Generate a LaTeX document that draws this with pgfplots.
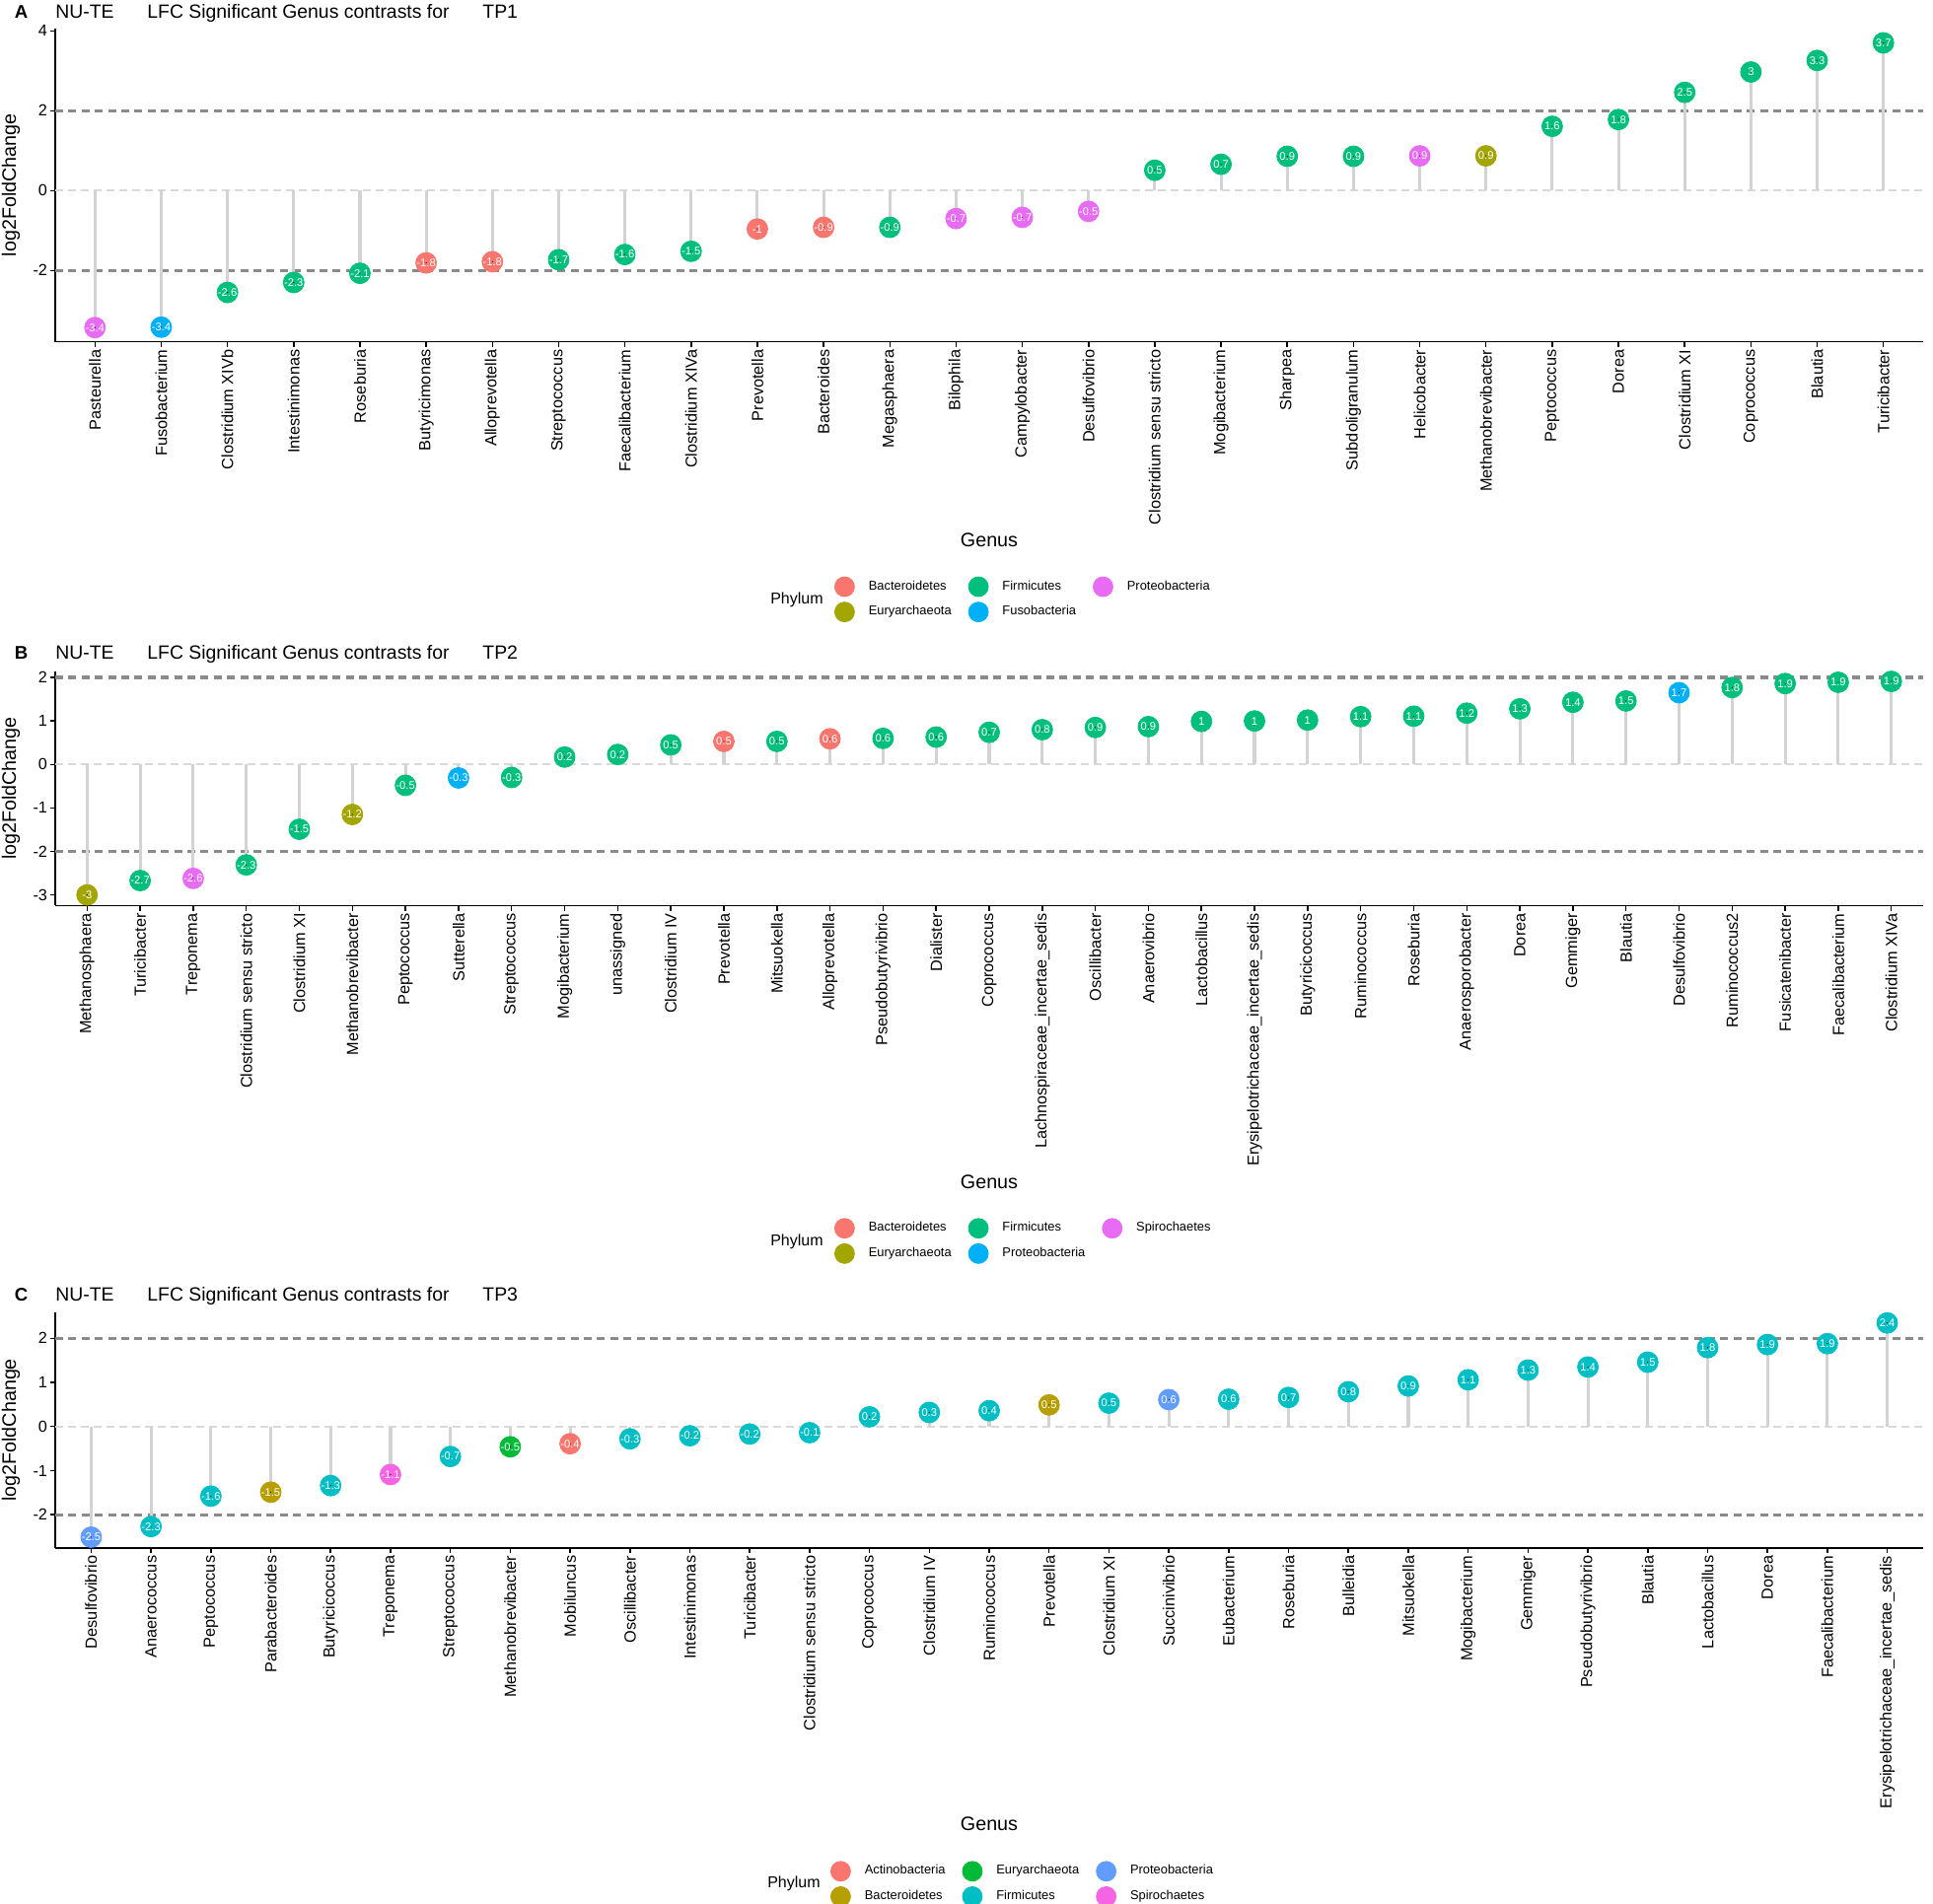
\documentclass[border=0pt]{standalone}
\usepackage{fontspec}
\setmainfont{Liberation Sans}
\usepackage{pgfplots}
\usepackage{pgfplotstable}
\pgfplotsset{compat=1.18}

\definecolor{aBac}{HTML}{F8766D}
\definecolor{aEur}{HTML}{A3A500}
\definecolor{aFir}{HTML}{00BF7D}
\definecolor{aBlu}{HTML}{00B0F6}
\definecolor{aPin}{HTML}{E76BF3}
\definecolor{cAct}{HTML}{F8766D}
\definecolor{cBac}{HTML}{B79F00}
\definecolor{cEur}{HTML}{00BA38}
\definecolor{cFir}{HTML}{00BFC4}
\definecolor{cPro}{HTML}{619CFF}
\definecolor{cSpi}{HTML}{F564E3}
\definecolor{dashgray}{HTML}{8A8A8A}
\definecolor{zerogray}{HTML}{D9D9D9}
\definecolor{stemgray}{HTML}{D3D3D3}

\pgfplotstableread{
x y lab ph
0 -3.43 -3.4 Pro
1 -3.42 -3.4 Fus
2 -2.55 -2.6 Fir
3 -2.30 -2.3 Fir
4 -2.07 -2.1 Fir
5 -1.81 -1.8 Bac
6 -1.78 -1.8 Bac
7 -1.73 -1.7 Fir
8 -1.60 -1.6 Fir
9 -1.52 -1.5 Fir
10 -0.96 -1 Bac
11 -0.92 -0.9 Bac
12 -0.92 -0.9 Fir
13 -0.70 -0.7 Pro
14 -0.67 -0.7 Pro
15 -0.52 -0.5 Pro
16 0.51 0.5 Fir
17 0.66 0.7 Fir
18 0.86 0.9 Fir
19 0.86 0.9 Fir
20 0.87 0.9 Pro
21 0.87 0.9 Eur
22 1.61 1.6 Fir
23 1.78 1.8 Fir
24 2.46 2.5 Fir
25 2.97 3 Fir
26 3.26 3.3 Fir
27 3.70 3.7 Fir
}\dataA

\pgfplotstableread{
x y lab ph
0 -3.00 -3 Eur
1 -2.67 -2.7 Fir
2 -2.62 -2.6 Spi
3 -2.31 -2.3 Fir
4 -1.49 -1.5 Fir
5 -1.15 -1.2 Eur
6 -0.48 -0.5 Fir
7 -0.31 -0.3 Pro
8 -0.30 -0.3 Fir
9 0.17 0.2 Fir
10 0.23 0.2 Fir
11 0.45 0.5 Fir
12 0.53 0.5 Bac
13 0.53 0.5 Fir
14 0.59 0.6 Bac
15 0.60 0.6 Fir
16 0.63 0.6 Fir
17 0.74 0.7 Fir
18 0.80 0.8 Fir
19 0.85 0.9 Fir
20 0.87 0.9 Fir
21 0.99 1 Fir
22 1.00 1 Fir
23 1.02 1 Fir
24 1.10 1.1 Fir
25 1.11 1.1 Fir
26 1.18 1.2 Fir
27 1.28 1.3 Fir
28 1.43 1.4 Fir
29 1.46 1.5 Fir
30 1.65 1.7 Pro
31 1.77 1.8 Fir
32 1.86 1.9 Fir
33 1.89 1.9 Fir
34 1.91 1.9 Fir
}\dataB

\pgfplotstableread{
x y lab ph
0 -2.51 -2.5 Pro
1 -2.27 -2.3 Fir
2 -1.58 -1.6 Fir
3 -1.49 -1.5 Bac
4 -1.34 -1.3 Fir
5 -1.09 -1.1 Spi
6 -0.68 -0.7 Fir
7 -0.46 -0.5 Eur
8 -0.39 -0.4 Act
9 -0.28 -0.3 Fir
10 -0.21 -0.2 Fir
11 -0.17 -0.2 Fir
12 -0.14 -0.1 Fir
13 0.22 0.2 Fir
14 0.32 0.3 Fir
15 0.36 0.4 Fir
16 0.49 0.5 Bac
17 0.53 0.5 Fir
18 0.61 0.6 Pro
19 0.62 0.6 Fir
20 0.66 0.7 Fir
21 0.79 0.8 Fir
22 0.92 0.9 Fir
23 1.06 1.1 Fir
24 1.28 1.3 Fir
25 1.35 1.4 Fir
26 1.46 1.5 Fir
27 1.79 1.8 Fir
28 1.86 1.9 Fir
29 1.88 1.9 Fir
30 2.35 2.4 Fir
}\dataC

\pgfplotsset{
  lolli/.style={
    scale only axis, width=947pt, anchor=south west, clip=false,
    xmin=-0.6,
    axis lines=left, axis line style={-, line width=0.75pt, black},
    tick align=outside, major tick length=2.6pt,
    tick style={line width=0.75pt, black},
    xticklabel style={rotate=90, anchor=east, inner sep=1.2pt, font=\fontsize{8.15}{9.6}\selectfont},
    yticklabel style={inner sep=1.2pt, font=\fontsize{8.1}{9.6}\selectfont},
    xlabel={Genus}, ylabel={log2FoldChange},
    label style={font=\fontsize{9.85}{11.5}\selectfont},
    xlabel style={inner sep=3.1pt},
    ylabel style={at={(axis description cs:-0.0238,0.5)}, anchor=center},
    legend columns=3,
    legend cell align=left,
    legend style={draw=none, fill=none, inner sep=0pt, outer sep=0pt, anchor=west,
      font=\fontsize{6.45}{7.5}\selectfont, row sep=2.4pt,
      nodes={inner sep=0pt},
      /tikz/every odd column/.append style={column sep=7pt},
      /tikz/every even column/.append style={column sep=8.5pt}},
  },
  hl2/.style={forget plot, draw=dashgray, line width=1.65pt, dash pattern=on 4pt off 2.7pt},
  hl0/.style={forget plot, draw=zerogray, line width=0.85pt, dash pattern=on 3.8pt off 2.7pt},
  stem/.style={forget plot, ycomb, no markers, draw=stemgray, line width=1.55pt},
  pts/.style={forget plot, scatter, only marks, scatter src=explicit symbolic,
    mark=*, mark size=5.25pt},
  labs/.style={forget plot, only marks, mark=*, mark size=0.01pt,
    mark options={draw=none, fill=none},
    point meta=explicit symbolic,
    nodes near coords,
    every node near coord/.append style={anchor=center, text=white, inner sep=0pt,
      font=\fontsize{5.6}{6}\selectfont}},
}

\begin{document}
\begin{tikzpicture}
\path[use as bounding box] (0pt,0pt) rectangle (980pt,-965.5pt);

% ---------------- Panel A ----------------
\node[anchor=base west, inner sep=0pt, font=\bfseries\fontsize{9.3}{10}\selectfont] at (7.2pt,-9.15pt) {A};
\node[anchor=base west, inner sep=0pt, font=\fontsize{9.7}{11}\selectfont] at (28pt,-9.15pt) {NU-TE};
\node[anchor=base west, inner sep=0pt, font=\fontsize{9.7}{11}\selectfont] at (74.5pt,-9.15pt) {LFC Significant Genus contrasts for};
\node[anchor=base west, inner sep=0pt, font=\fontsize{9.7}{11}\selectfont] at (244.5pt,-9.15pt) {TP1};
\begin{axis}[lolli, at={(28pt,-173.35pt)}, height=158.85pt,
  xmax=27.6, ymin=-3.787, ymax=4.057,
  xtick={0,1,...,27},
  xticklabels={Pasteurella, Fusobacterium, Clostridium XIVb, Intestinimonas, Roseburia, Butyricimonas, Alloprevotella, Streptococcus, Faecalibacterium, Clostridium XIVa, Prevotella, Bacteroides, Megasphaera, Bilophila, Campylobacter, Desulfovibrio, Clostridium sensu stricto, Mogibacterium, Sharpea, Subdoligranulum, Helicobacter, Methanobrevibacter, Peptococcus, Dorea, Clostridium XI, Coprococcus, Blautia, Turicibacter},
  ytick={-2,0,2,4}, yticklabels={-2,0,2,4},
  legend style={at={(0.4171,-0.822)}},
]
\addplot[hl0] coordinates {(-0.6,0) (27.6,0)};
\addplot[hl2] coordinates {(-0.6,2) (27.6,2)};
\addplot[hl2] coordinates {(-0.6,-2) (27.6,-2)};
\addplot[stem] table[x=x,y=y] {\dataA};
\addplot[pts, scatter/classes={Bac={draw=aBac,fill=aBac}, Eur={draw=aEur,fill=aEur}, Fir={draw=aFir,fill=aFir}, Fus={draw=aBlu,fill=aBlu}, Pro={draw=aPin,fill=aPin}}]
  table[x=x,y=y,meta=ph] {\dataA};
\addplot[labs] table[x=x,y=y,meta=lab] {\dataA};
\addlegendimage{legend image code/.code={\fill[aBac] (0pt,0pt) circle[radius=5pt];}}
\addlegendentry{Bacteroidetes}
\addlegendimage{legend image code/.code={\fill[aFir] (0pt,0pt) circle[radius=5pt];}}
\addlegendentry{Firmicutes}
\addlegendimage{legend image code/.code={\fill[aPin] (0pt,0pt) circle[radius=5pt];}}
\addlegendentry{Proteobacteria}
\addlegendimage{legend image code/.code={\fill[aEur] (0pt,0pt) circle[radius=5pt];}}
\addlegendentry{Euryarchaeota}
\addlegendimage{legend image code/.code={\fill[aBlu] (0pt,0pt) circle[radius=5pt];}}
\addlegendentry{Fusobacteria}
\end{axis}
\node[anchor=east, inner sep=0pt, font=\fontsize{8}{9.6}\selectfont] at (417.5pt,-304pt) {Phylum};

% ---------------- Panel B ----------------
\node[anchor=base west, inner sep=0pt, font=\bfseries\fontsize{9.3}{10}\selectfont] at (7.2pt,-334pt) {B};
\node[anchor=base west, inner sep=0pt, font=\fontsize{9.7}{11}\selectfont] at (28pt,-334pt) {NU-TE};
\node[anchor=base west, inner sep=0pt, font=\fontsize{9.7}{11}\selectfont] at (74.5pt,-334pt) {LFC Significant Genus contrasts for};
\node[anchor=base west, inner sep=0pt, font=\fontsize{9.7}{11}\selectfont] at (244.5pt,-334pt) {TP2};
\begin{axis}[lolli, at={(28pt,-459.2pt)}, height=118.85pt,
  xmax=34.6, ymin=-3.245, ymax=2.145,
  xtick={0,1,...,34},
  xticklabels={Methanosphaera, Turicibacter, Treponema, Clostridium sensu stricto, Clostridium XI, Methanobrevibacter, Peptococcus, Sutterella, Streptococcus, Mogibacterium, unassigned, Clostridium IV, Prevotella, Mitsuokella, Alloprevotella, Pseudobutyrivibrio, Dialister, Coprococcus, Lachnospiraceae\_incertae\_sedis, Oscillibacter, Anaerovibrio, Lactobacillus, Erysipelotrichaceae\_incertae\_sedis, Butyricicoccus, Ruminococcus, Roseburia, Anaerosporobacter, Dorea, Gemmiger, Blautia, Desulfovibrio, Ruminococcus2, Fusicatenibacter, Faecalibacterium, Clostridium XIVa},
  ytick={-3,-2,-1,0,1,2}, yticklabels={-3,-2,-1,0,1,2},
  legend style={at={(0.4171,-1.431)}},
]
\addplot[hl0] coordinates {(-0.6,0) (34.6,0)};
\addplot[hl2] coordinates {(-0.6,2) (34.6,2)};
\addplot[hl2] coordinates {(-0.6,-2) (34.6,-2)};
\addplot[stem] table[x=x,y=y] {\dataB};
\addplot[pts, scatter/classes={Bac={draw=aBac,fill=aBac}, Eur={draw=aEur,fill=aEur}, Fir={draw=aFir,fill=aFir}, Pro={draw=aBlu,fill=aBlu}, Spi={draw=aPin,fill=aPin}}]
  table[x=x,y=y,meta=ph] {\dataB};
\addplot[labs] table[x=x,y=y,meta=lab] {\dataB};
\addlegendimage{legend image code/.code={\fill[aBac] (0pt,0pt) circle[radius=5pt];}}
\addlegendentry{Bacteroidetes}
\addlegendimage{legend image code/.code={\fill[aFir] (0pt,0pt) circle[radius=5pt];}}
\addlegendentry{Firmicutes}
\addlegendimage{legend image code/.code={\fill[aPin] (0pt,0pt) circle[radius=5pt];}}
\addlegendentry{Spirochaetes}
\addlegendimage{legend image code/.code={\fill[aEur] (0pt,0pt) circle[radius=5pt];}}
\addlegendentry{Euryarchaeota}
\addlegendimage{legend image code/.code={\fill[aBlu] (0pt,0pt) circle[radius=5pt];}}
\addlegendentry{Proteobacteria}
\end{axis}
\node[anchor=east, inner sep=0pt, font=\fontsize{8}{9.6}\selectfont] at (417.5pt,-629.5pt) {Phylum};

% ---------------- Panel C ----------------
\node[anchor=base west, inner sep=0pt, font=\bfseries\fontsize{9.3}{10}\selectfont] at (7.2pt,-659.5pt) {C};
\node[anchor=base west, inner sep=0pt, font=\fontsize{9.7}{11}\selectfont] at (28pt,-659.5pt) {NU-TE};
\node[anchor=base west, inner sep=0pt, font=\fontsize{9.7}{11}\selectfont] at (74.5pt,-659.5pt) {LFC Significant Genus contrasts for};
\node[anchor=base west, inner sep=0pt, font=\fontsize{9.7}{11}\selectfont] at (244.5pt,-659.5pt) {TP3};
\begin{axis}[lolli, at={(28pt,-784.9pt)}, height=119.5pt,
  xmax=30.6, ymin=-2.753, ymax=2.593,
  xtick={0,1,...,30},
  xticklabels={Desulfovibrio, Anaerococcus, Peptococcus, Parabacteroides, Butyricicoccus, Treponema, Streptococcus, Methanobrevibacter, Mobiluncus, Oscillibacter, Intestinimonas, Turicibacter, Clostridium sensu stricto, Coprococcus, Clostridium IV, Ruminococcus, Prevotella, Clostridium XI, Succinivibrio, Eubacterium, Roseburia, Bulleidia, Mitsuokella, Mogibacterium, Gemmiger, Pseudobutyrivibrio, Blautia, Lactobacillus, Dorea, Faecalibacterium, Erysipelotrichaceae\_incertae\_sedis},
  ytick={-2,-1,0,1,2}, yticklabels={-2,-1,0,1,2},
  legend style={at={(0.4150,-1.426)}},
]
\addplot[hl0] coordinates {(-0.6,0) (30.6,0)};
\addplot[hl2] coordinates {(-0.6,2) (30.6,2)};
\addplot[hl2] coordinates {(-0.6,-2) (30.6,-2)};
\addplot[stem] table[x=x,y=y] {\dataC};
\addplot[pts, scatter/classes={Act={draw=cAct,fill=cAct}, Bac={draw=cBac,fill=cBac}, Eur={draw=cEur,fill=cEur}, Fir={draw=cFir,fill=cFir}, Pro={draw=cPro,fill=cPro}, Spi={draw=cSpi,fill=cSpi}}]
  table[x=x,y=y,meta=ph] {\dataC};
\addplot[labs] table[x=x,y=y,meta=lab] {\dataC};
\addlegendimage{legend image code/.code={\fill[cAct] (0pt,0pt) circle[radius=5pt];}}
\addlegendentry{Actinobacteria}
\addlegendimage{legend image code/.code={\fill[cEur] (0pt,0pt) circle[radius=5pt];}}
\addlegendentry{Euryarchaeota}
\addlegendimage{legend image code/.code={\fill[cPro] (0pt,0pt) circle[radius=5pt];}}
\addlegendentry{Proteobacteria}
\addlegendimage{legend image code/.code={\fill[cBac] (0pt,0pt) circle[radius=5pt];}}
\addlegendentry{Bacteroidetes}
\addlegendimage{legend image code/.code={\fill[cFir] (0pt,0pt) circle[radius=5pt];}}
\addlegendentry{Firmicutes}
\addlegendimage{legend image code/.code={\fill[cSpi] (0pt,0pt) circle[radius=5pt];}}
\addlegendentry{Spirochaetes}
\end{axis}
\node[anchor=east, inner sep=0pt, font=\fontsize{8}{9.6}\selectfont] at (416pt,-955.25pt) {Phylum};
\end{tikzpicture}
\end{document}
